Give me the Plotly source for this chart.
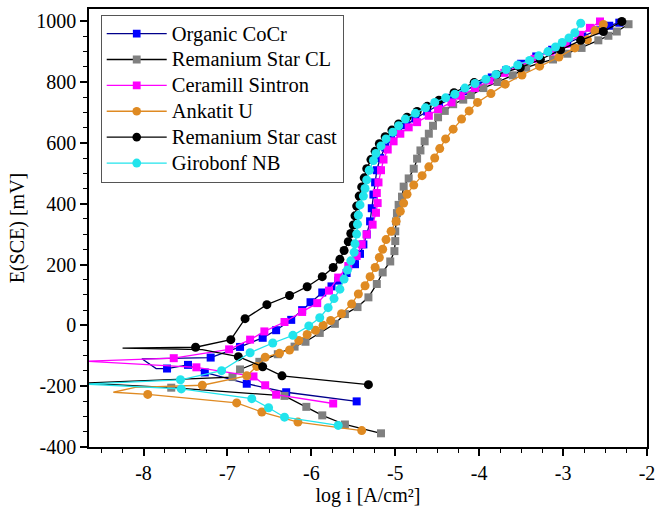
import plotly.graph_objects as go

# ---------------- data (log i [A/cm2], E [mV]) ----------------
# Organic CoCr
oc_cath_x = [-5.46, -6.30, -6.77, -7.27, -7.47, -7.72]
oc_cath_y = [-250, -220, -192, -155, -130, -142]
oc_tail_x = [-7.85, -8.02]
oc_tail_y = [-142, -110]
oc_anod_x = [-7.20, -6.85, -6.58, -6.42, -6.24, -6.11, -6.01, -5.87, -5.76, -5.68, -5.58, -5.48, -5.42, -5.38,
             -5.34, -5.30, -5.28, -5.26, -5.24, -5.22, -5.18, -5.12, -5.05, -4.97, -4.87, -4.76, -4.62, -4.48,
             -4.33, -4.18, -4.02, -3.85, -3.68, -3.50, -3.32, -3.13, -2.95, -2.77, -2.60, -2.45, -2.33]
oc_anod_y = [-106, -71, -41, -16, 18, 50, 76, 108, 128, 147, 172, 201, 235, 266,
             299, 342, 385, 430, 470, 510, 550, 585, 612, 636, 658, 680, 703, 725,
             748, 770, 792, 815, 838, 860, 884, 906, 928, 950, 970, 985, 995]

# Remanium Star CL
rcl_cath_x = [-5.17, -5.60, -5.87, -6.06, -6.32, -7.67]
rcl_cath_y = [-355, -326, -296, -268, -232, -205]
rcl_tail_x = [-8.7]
rcl_tail_y = [-190]
rcl_anod_x = [-6.94, -6.85, -6.62, -6.40, -6.20, -6.07, -5.90, -5.72, -5.60, -5.45, -5.32, -5.22, -5.15, -5.06,
              -5.01, -5.00, -5.00, -4.99, -4.98, -4.96, -4.92, -4.90, -4.84, -4.78, -4.74, -4.70, -4.65, -4.60,
              -4.55, -4.49, -4.41, -4.31, -4.19, -4.10, -3.95, -3.78, -3.60, -3.44, -3.28, -3.12, -2.95, -2.78,
              -2.58, -2.46, -2.36, -2.22]
rcl_anod_y = [-170, -145, -120, -95, -70, -54, -25, 5, 37, 60, 92, 136, 174, 210,
              244, 277, 309, 342, 369, 396, 423, 456, 483, 515, 548, 575, 605, 630,
              656, 684, 705, 727, 742, 757, 780, 800, 822, 847, 862, 874, 893, 912,
              937, 952, 966, 990]

# Ceramill Sintron
cs_cath_x = [-5.74, -6.42, -6.55, -6.69, -7.37]
cs_cath_y = [-257, -228, -197, -168, -138]
cs_tail_x = [-8.7]
cs_tail_y = [-118]
cs_anod_x = [-7.64, -6.98, -6.73, -6.56, -6.32, -6.11, -5.93, -5.79, -5.68, -5.56, -5.46, -5.40, -5.34, -5.27,
             -5.23, -5.21, -5.22, -5.20, -5.17, -5.14, -5.09, -5.02, -4.94, -4.84, -4.74, -4.60, -4.49, -4.33,
             -4.22, -4.05, -3.88, -3.70, -3.52, -3.34, -3.15, -2.97, -2.80, -2.68, -2.56]
cs_anod_y = [-108, -79, -47, -20, 11, 44, 73, 114, 157, 195, 228, 266, 299, 331,
             370, 402, 435, 470, 510, 545, 578, 605, 630, 651, 668, 689, 711, 733,
             755, 780, 805, 830, 852, 876, 900, 925, 955, 978, 999]

# Ankatit U
au_cath_x = [-5.40, -6.16, -6.59, -6.89, -7.95]
au_cath_y = [-346, -318, -285, -255, -227]
au_tail_x = [-8.36, -8.10]
au_tail_y = [-220, -204]
au_anod_x = [-7.30, -6.77, -6.65, -6.55, -6.38, -6.26, -6.15, -6.05, -5.95, -5.86, -5.77, -5.64, -5.52, -5.44,
             -5.36, -5.30, -5.24, -5.19, -5.15, -5.11, -5.05, -4.99, -4.94, -4.90, -4.86, -4.78, -4.68, -4.60,
             -4.53, -4.47, -4.40, -4.31, -4.21, -4.12, -4.02, -3.86, -3.69, -3.49, -3.28, -3.05, -2.86, -2.71,
             -2.62, -2.52]
au_anod_y = [-197, -166, -135, -105, -92, -81, -50, -30, -16, 0, 16, 38, 70, 103,
             130, 160, 190, 223, 250, 282, 309, 342, 375, 402, 431, 461, 492, 521,
             550, 581, 613, 645, 678, 705, 733, 762, 793, 823, 852, 882, 912, 939,
             969, 989]

# Remanium Star cast
rsc_cath_x = [-5.32, -6.35, -6.58, -6.87]
rsc_cath_y = [-195, -166, -136, -103]
rsc_tail_x = [-7.30, -8.25]
rsc_tail_y = [-80, -75]
rsc_anod_x = [-7.38, -6.96, -6.79, -6.53, -6.26, -6.05, -5.87, -5.74, -5.66, -5.61, -5.56, -5.53, -5.50, -5.48,
              -5.46, -5.43, -5.40, -5.37, -5.34, -5.29, -5.24, -5.19, -5.12, -5.04, -4.96, -4.86, -4.74, -4.62,
              -4.48, -4.30, -4.06, -3.79, -3.51, -3.27, -3.03, -2.79, -2.52, -2.30]
rsc_anod_y = [-72, -47, 22, 68, 98, 127, 160, 190, 217, 246, 275, 302, 330, 360,
              392, 425, 455, 485, 515, 545, 572, 597, 620, 642, 662, 684, 703, 720,
              740, 765, 798, 825, 847, 874, 906, 937, 966, 999]

# Girobonf NB
gn_cath_x = [-5.68, -6.32, -6.51, -6.71, -7.55]
gn_cath_y = [-329, -302, -271, -241, -209]
gn_tail_x = [-8.7]
gn_tail_y = [-193]
gn_anod_x = [-7.56, -7.07, -6.73, -6.46, -6.22, -6.03, -5.90, -5.80, -5.73, -5.66, -5.61, -5.57, -5.53, -5.49,
             -5.48, -5.46, -5.45, -5.44, -5.42, -5.38, -5.36, -5.34, -5.31, -5.26, -5.23, -5.17, -5.11, -5.03,
             -4.96, -4.88, -4.76, -4.64, -4.53, -4.40, -4.29, -4.17, -4.05, -3.92, -3.80, -3.68, -3.54, -3.40,
             -3.29, -3.18, -3.09, -3.01, -2.93, -2.86, -2.79]
gn_anod_y = [-179, -149, -90, -58, -33, -2, 25, 58, 88, 119, 152, 182, 212, 240,
             268, 300, 332, 362, 396, 425, 450, 478, 510, 542, 565, 590, 613, 635,
             656, 678, 697, 715, 733, 748, 760, 780, 795, 809, 825, 841, 856, 871,
             886, 900, 915, 930, 945, 962, 993]

x_tick_vals = [-8, -7, -6, -5, -4, -3, -2]
x_tick_text = ["-8", "-7", "-6", "-5", "-4", "-3", "-2"]
y_tick_vals = [-400, -200, 0, 200, 400, 600, 800, 1000]
y_tick_text = ["-400", "-200", "0", "200", "400", "600", "800", "1000"]

series = [
    ("Organic CoCr", oc_cath_x, oc_cath_y, oc_tail_x, oc_tail_y, oc_anod_x, oc_anod_y,
     "#0000ff", "#00008b", "square", 8),
    ("Remanium Star CL", rcl_cath_x, rcl_cath_y, rcl_tail_x, rcl_tail_y, rcl_anod_x, rcl_anod_y,
     "#808080", "#000000", "square", 8),
    ("Ceramill Sintron", cs_cath_x, cs_cath_y, cs_tail_x, cs_tail_y, cs_anod_x, cs_anod_y,
     "#ff00ff", "#ff00ff", "square", 8),
    ("Ankatit U", au_cath_x, au_cath_y, au_tail_x, au_tail_y, au_anod_x, au_anod_y,
     "#df8a22", "#df8a22", "circle", 9),
    ("Remanium Star cast", rsc_cath_x, rsc_cath_y, rsc_tail_x, rsc_tail_y, rsc_anod_x, rsc_anod_y,
     "#000000", "#000000", "circle", 9),
    ("Girobonf NB", gn_cath_x, gn_cath_y, gn_tail_x, gn_tail_y, gn_anod_x, gn_anod_y,
     "#22e4ec", "#22e4ec", "circle", 9),
]

font_family = "Liberation Serif"
fig = go.Figure()
for name, cx, cy, tx, ty, ax, ay, mcol, lcol, sym, ms in series:
    xs = cx + tx + ax
    ys = cy + ty + ay
    sizes = [ms] * len(cx) + [0] * len(tx) + [ms] * len(ax)
    fig.add_trace(go.Scatter(
        x=xs, y=ys, mode="lines+markers",
        name='<span style="font-size:20.5px">' + name + '</span>',
        line=dict(color=lcol, width=1.3),
        marker=dict(color=mcol, symbol=sym, size=sizes, opacity=1, line=dict(width=0)),
        cliponaxis=True,
    ))

fig.update_layout(
    width=662, height=509,
    margin=dict(l=89, r=10, t=7, b=61),
    plot_bgcolor="white", paper_bgcolor="white",
    font=dict(family=font_family, size=20, color="black"),
    showlegend=True,
    legend=dict(x=0.021, y=0.987, xanchor="left", yanchor="top",
                bgcolor="white", bordercolor="#555555", borderwidth=1,
                font=dict(family=font_family, size=17.6, color="black"),
                itemwidth=60, tracegroupgap=0),
    xaxis=dict(
        range=[-8.65, -2], tickmode="array", tickvals=x_tick_vals, ticktext=x_tick_text,
        ticks="outside", ticklen=7, tickwidth=1.5, tickcolor="black",
        tickfont=dict(size=20),
        minor=dict(tickmode="linear", tick0=-8, dtick=0.25, ticks="outside", ticklen=4,
                   tickwidth=1, tickcolor="black", showgrid=False),
        showline=True, linecolor="black", linewidth=1.5, mirror=True,
        showgrid=False, zeroline=False,
        title=dict(text="log i [A/cm²]", font=dict(size=20), standoff=4),
    ),
    yaxis=dict(
        range=[-400, 1040], tickmode="array", tickvals=y_tick_vals, ticktext=y_tick_text,
        ticks="outside", ticklen=7, tickwidth=1.5, tickcolor="black",
        tickfont=dict(size=20),
        minor=dict(tickmode="linear", tick0=-400, dtick=50, ticks="outside", ticklen=4,
                   tickwidth=1, tickcolor="black", showgrid=False),
        showline=True, linecolor="black", linewidth=1.5, mirror=True,
        showgrid=False, zeroline=False,
        title=dict(text="E(SCE) [mV]", font=dict(size=20), standoff=6),
    ),
)

fig.write_html("out.html")
